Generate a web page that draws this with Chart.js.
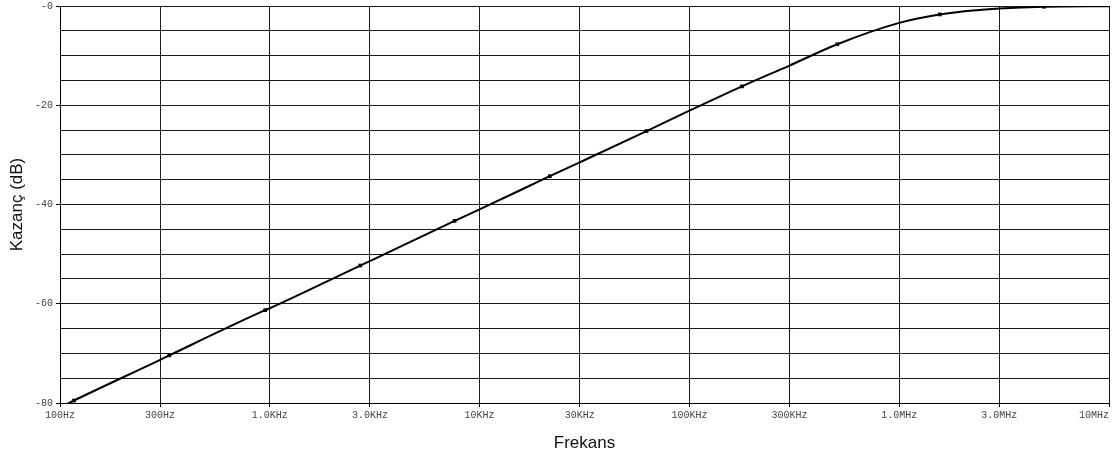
<!DOCTYPE html>
<html>
<head>
<meta charset="utf-8">
<script src="https://cdn.jsdelivr.net/npm/chart.js@4"></script>
<style>
  html, body { margin: 0; padding: 0; background: #fff; }
  #wrap { width: 1116px; height: 459px; }
</style>
</head>
<body>
<div id="wrap"><canvas id="chart" width="1116" height="459"></canvas></div>
<script>
// curve (Hz, dB)
const freqs = [108, 116.6, 300, 332, 950, 1000, 2700, 3000, 7600, 10000, 21600, 30000,
  62500, 100000, 178000, 300000, 507000, 1000000, 1560000, 2400000, 3000000, 4900000, 10000000];
const gainDb = [-80.2, -79.5, -71.3, -70.4, -61.3, -60.9, -52.3, -51.4, -43.3, -41.0, -34.3, -31.5,
  -25.2, -21.1, -16.2, -12.0, -7.7, -3.4, -1.7, -0.8, -0.5, -0.15, -0.03];

// square markers on the trace
const markerFreqs = [116.6, 332, 950, 2700, 7600, 21600, 62500, 178000, 507000, 1560000, 4900000];
const markerGain = [-79.5, -70.4, -61.3, -52.3, -43.3, -34.3, -25.2, -16.2, -7.7, -1.7, -0.15];

const xTickValues = [100, 300, 1000, 3000, 10000, 30000, 100000, 300000, 1000000, 3000000, 10000000];
const xTickLabels = ['100Hz', '300Hz', '1.0KHz', '3.0KHz', '10KHz', '30KHz', '100KHz', '300KHz', '1.0MHz', '3.0MHz', '10MHz'];
const yTickValues = [0, -20, -40, -60, -80];
const yTickLabels = ['-0', '-20', '-40', '-60', '-80'];

const tickFont = { family: "'Liberation Mono', 'DejaVu Sans Mono', monospace", size: 10 };
const titleFont = { family: "'Liberation Sans', Arial, sans-serif", size: 17 };

const ctx = document.getElementById('chart').getContext('2d');
new Chart(ctx, {
  type: 'line',
  data: {
    datasets: [
      {
        data: freqs.map((f, i) => ({ x: f, y: gainDb[i] })),
        borderColor: '#000',
        borderWidth: 2,
        pointRadius: 0,
        cubicInterpolationMode: 'monotone',
        fill: false,
      },
      {
        data: markerFreqs.map((f, i) => ({ x: f, y: markerGain[i] })),
        showLine: false,
        pointStyle: 'rect',
        pointRadius: 2.6,
        backgroundColor: '#000',
        borderColor: '#000',
        borderWidth: 0,
      },
    ],
  },
  options: {
    responsive: false,
    animation: false,
    layout: { padding: { top: 6, right: 7, left: 0, bottom: 0 } },
    plugins: { legend: { display: false }, tooltip: { enabled: false } },
    scales: {
      x: {
        type: 'logarithmic',
        min: 100,
        max: 10000000,
        afterBuildTicks: (scale) => {
          scale.ticks = xTickValues.map((v) => ({ value: v }));
        },
        afterFit: (scale) => {
          scale.height = 56;
          scale.paddingLeft = 0;
          scale.paddingRight = 0;
        },
        ticks: {
          autoSkip: false,
          maxRotation: 0,
          padding: 2,
          color: '#444',
          font: tickFont,
          callback: (value, index) => {
            const lbl = xTickLabels[index];
            // last label sits flush against the right edge
            return index === xTickLabels.length - 1 ? lbl + ' '.repeat(lbl.length) : lbl;
          },
        },
        grid: { color: '#1a1a1a', lineWidth: 1, tickLength: 4, tickColor: '#000' },
        border: { display: true, color: '#000', width: 1 },
        title: { display: true, text: 'Frekans', color: '#111', font: titleFont, padding: { top: 4, bottom: 5 } },
      },
      y: {
        min: -80,
        max: 0,
        afterFit: (scale) => {
          scale.width = 60;
          scale.paddingTop = 0;
          scale.paddingBottom = 0;
        },
        ticks: {
          stepSize: 5,
          autoSkip: false,
          padding: 3,
          color: '#444',
          font: tickFont,
          callback: (value) => {
            const i = yTickValues.indexOf(value);
            return i >= 0 ? yTickLabels[i] : '';
          },
        },
        grid: {
          color: '#1a1a1a',
          lineWidth: 1,
          tickLength: 4,
          tickColor: (c) => (c.tick && yTickValues.includes(c.tick.value) ? '#000' : 'rgba(0,0,0,0)'),
        },
        border: { display: true, color: '#000', width: 1 },
        title: { display: true, text: 'Kazanç (dB)', color: '#111', font: titleFont, padding: { top: 7, bottom: 0 } },
      },
    },
  },
});
</script>
</body>
</html>
